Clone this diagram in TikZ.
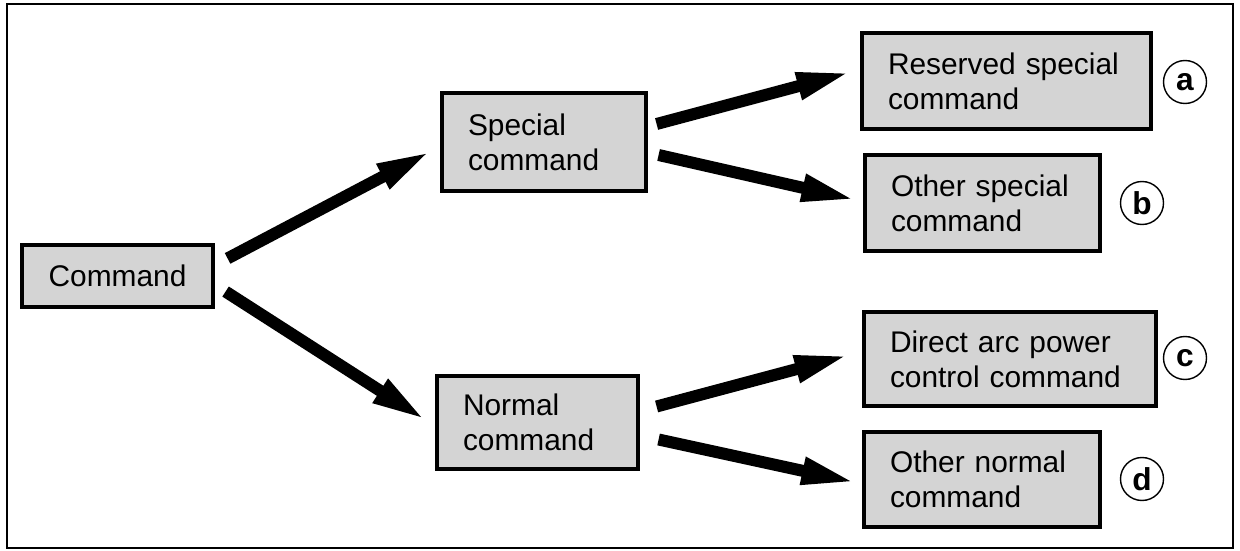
\documentclass[tikz,border=0pt]{standalone}
\usepackage{fontspec}
\setmainfont{Liberation Sans}
\usetikzlibrary{arrows.meta}

\definecolor{boxgray}{RGB}{212,212,212}

\begin{document}
\begin{tikzpicture}[x=0.2mm,y=-0.2mm,
    every node/.style={font=\fontsize{17}{20}\selectfont},
    cmdbox/.style={draw,line width=1.8pt,fill=boxgray,align=left,inner xsep=5.2mm,inner ysep=0pt},
    tag/.style={draw,circle,line width=0.8pt,minimum size=8.6mm,inner sep=0pt,font=\fontsize{18}{20}\selectfont\bfseries},
    >={Triangle[length=11mm,width=5mm]},
    fat/.style={->,line width=2.4mm}]
  \useasboundingbox (0,0) rectangle (1240,551);
  \draw[line width=1.5pt] (7,4) rectangle (1233,548);
  \node[cmdbox,align=center,minimum width=38.2mm,minimum height=12.4mm] (cmd) at (117.5,276) {Command};
  \node[cmdbox,text width=30.4mm,minimum height=19.6mm] (spec) at (544,142) {Special\\command};
  \node[cmdbox,text width=29.8mm,minimum height=18.6mm] (norm) at (537.5,422.5) {Normal\\command};
  \node[cmdbox,text width=47.4mm,minimum height=19.2mm] (resv) at (1006.5,81) {Reserved special\\command};
  \node[cmdbox,text width=36.6mm,minimum height=19.2mm] (ospec) at (982.5,203) {Other special\\command};
  \node[cmdbox,text width=48mm,minimum height=18.8mm] (arc) at (1010,359) {Direct arc power\\control command};
  \node[cmdbox,text width=36.8mm,minimum height=19mm] (onorm) at (982,479.5) {Other normal\\command};
  \node[tag] (ta) at (1185,82) {a};
  \node[tag] (tb) at (1142,203) {b};
  \node[tag] (tc) at (1185,358) {c};
  \node[tag] (td) at (1142,479) {d};
  \draw[fat] ([shift={(13,15)}]cmd.north east) -- ([shift={(-9,9)}]spec.west);
  \draw[fat] ([shift={(11,-17)}]cmd.south east) -- ([shift={(-9,-2)}]norm.west);
  \draw[fat] ([shift={(9,-18)}]spec.east) -- ([shift={(-9,-9)}]resv.west);
  \draw[fat] ([shift={(11,13)}]spec.east) -- ([shift={(-7,-3)}]ospec.west);
  \draw[fat] ([shift={(17,-16)}]norm.east) -- ([shift={(-13,-4)}]arc.west);
  \draw[fat] ([shift={(19,17)}]norm.east) -- ([shift={(-6,3)}]onorm.west);
\end{tikzpicture}
\end{document}
